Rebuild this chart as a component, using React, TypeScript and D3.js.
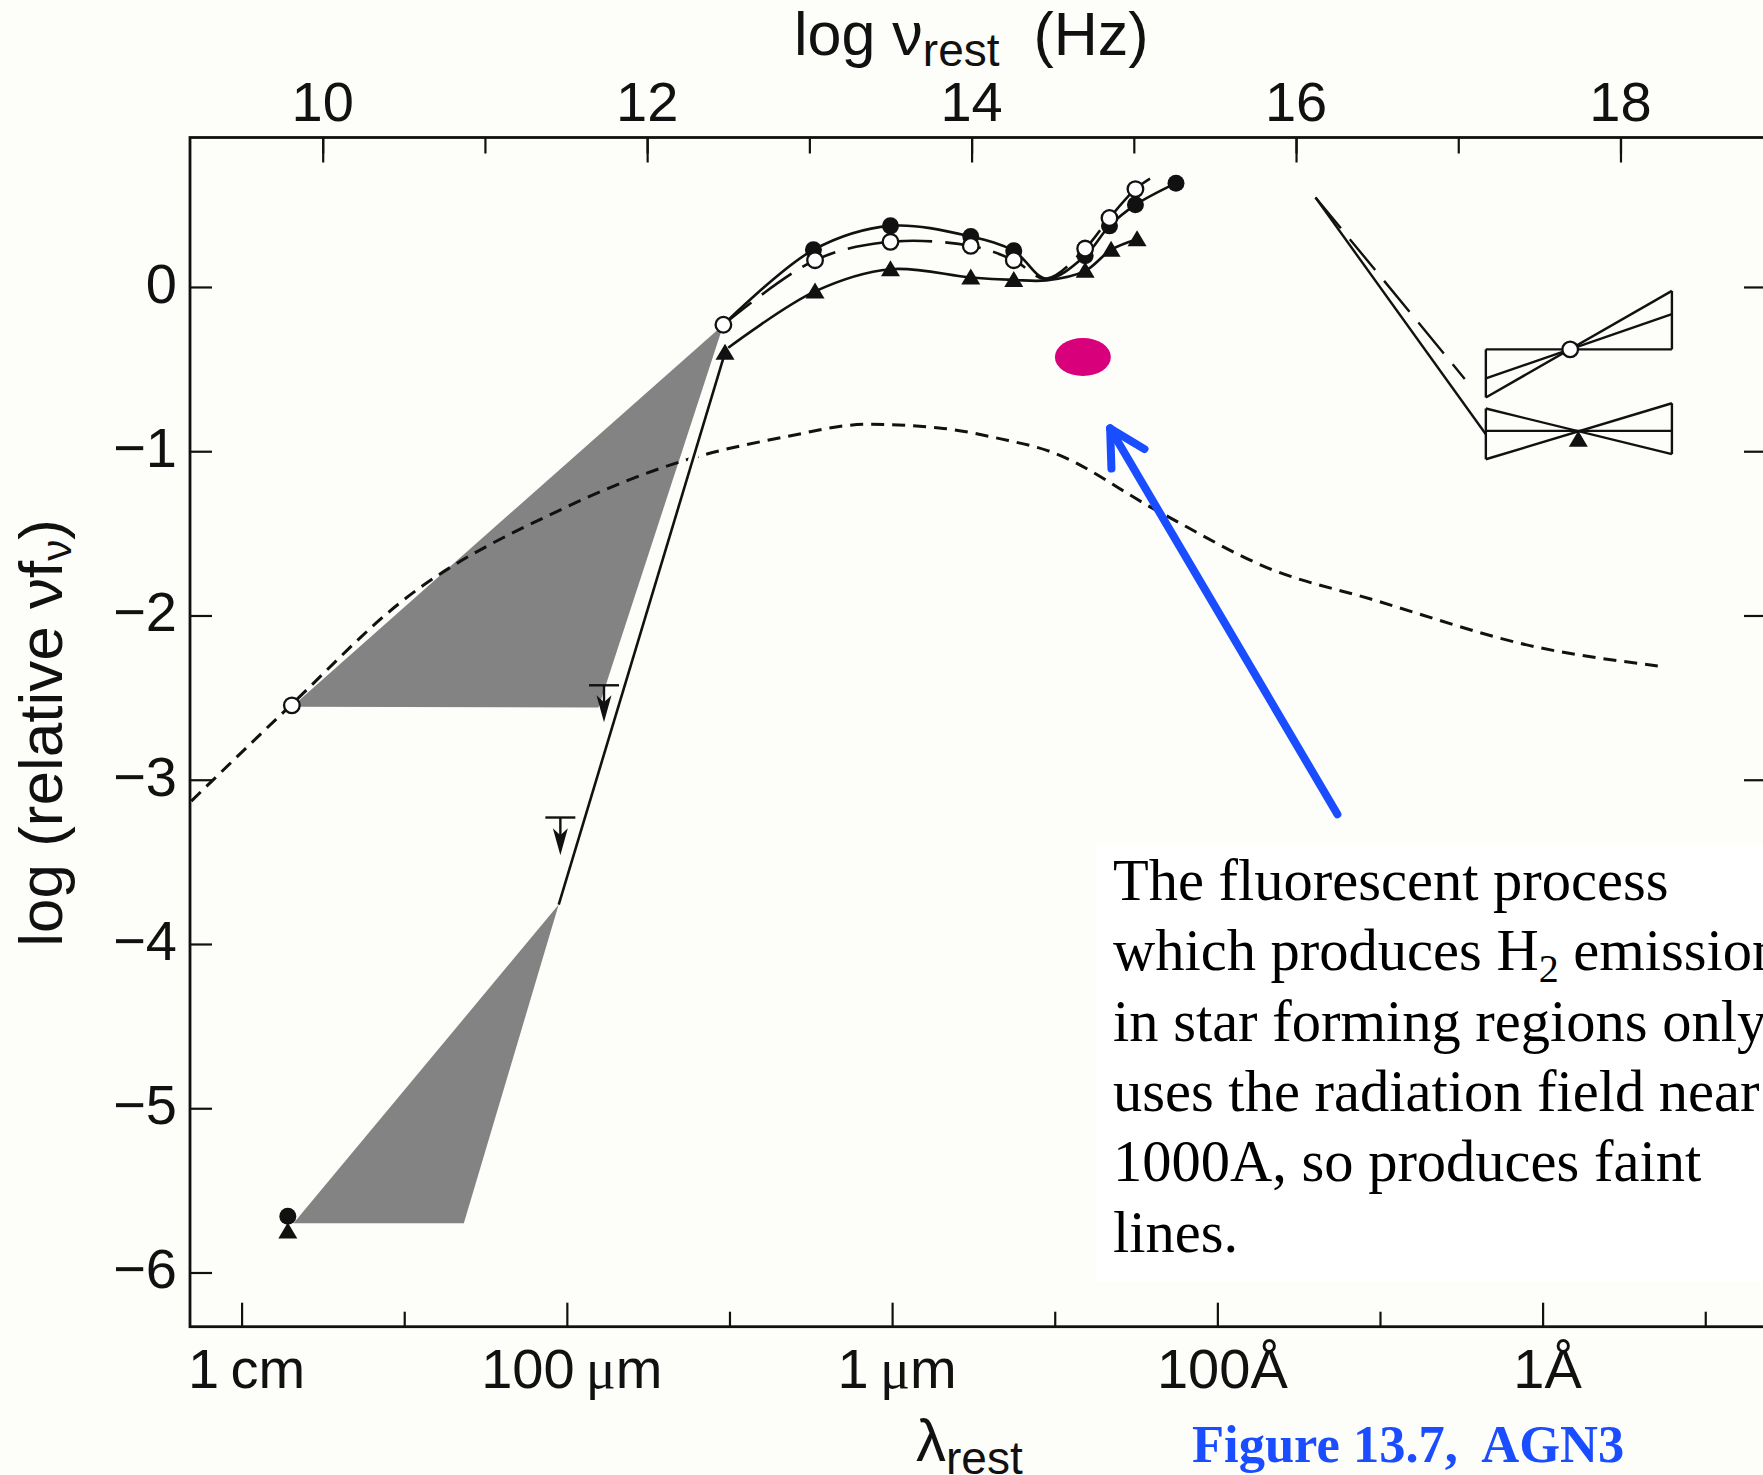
import { Component, createRef } from 'react'
import * as d3 from 'd3'

// all points are [log nu_rest (Hz), log(relative nu f_nu)]
const filledCurve = [[12.47, -0.23], [13.025, 0.226], [13.5, 0.372], [13.995, 0.307], [14.26, 0.22], [14.46, 0.05], [14.7, 0.19], [14.85, 0.372], [15.01, 0.5], [15.26, 0.632]]
const openCurve = [[12.47, -0.23], [13.035, 0.163], [13.5, 0.275], [13.995, 0.25], [14.26, 0.163], [14.46, 0.05], [14.7, 0.234], [14.85, 0.42], [15.01, 0.596], [15.1, 0.66]]
const triangleCurve = [[12.5, -0.37], [13.035, -0.027], [13.5, 0.108], [13.995, 0.058], [14.26, 0.043], [14.46, 0.04], [14.7, 0.098], [14.86, 0.226], [15.02, 0.29]]
const modelCurve = [[9.19, -3.13], [9.81, -2.54], [10.48, -1.92], [11.48, -1.35], [12.25, -1.05], [12.84, -0.915], [13.36, -0.836], [13.8, -0.858], [14.18, -0.925], [14.48, -1.0], [15.14, -1.36], [15.85, -1.72], [16.46, -1.9], [17.5, -2.196], [18.23, -2.307]]

const filledPoints = [[13.025, 0.226], [13.5, 0.372], [13.995, 0.307], [14.26, 0.22], [14.7, 0.19], [14.85, 0.372], [15.01, 0.5], [15.26, 0.632], [9.785, -5.657]]
const openPoints = [[12.47, -0.23], [13.035, 0.163], [13.5, 0.275], [13.995, 0.25], [14.26, 0.163], [14.7, 0.234], [14.85, 0.42], [15.01, 0.596], [9.81, -2.547], [17.69, -0.38]]
const trianglePoints = [[12.48, -0.4], [13.035, -0.027], [13.5, 0.108], [13.995, 0.058], [14.26, 0.043], [14.7, 0.098], [14.86, 0.226], [15.02, 0.29], [9.785, -5.75], [17.74, -0.93]]

const upperShade = [[9.81, -2.555], [11.7, -2.56], [12.47, -0.23]]
const lowerShade = [[9.82, -5.7], [10.87, -5.7], [11.455, -3.76]]
const steepLine = [[11.455, -3.76], [12.48, -0.4]]
const upperLimits = [[11.734, -2.425, -2.65], [11.465, -3.23, -3.46]]

const xraySolid = [[16.12, 0.545], [17.17, -0.897]]
const xrayDashed = [[16.12, 0.545], [17.04, -0.56]]
const bowties = [
    [[17.17, -0.38], [18.317, -0.38]],
    [[17.17, -0.673], [18.317, -0.024]],
    [[17.17, -0.557], [18.317, -0.166]],
    [[17.17, -0.38], [17.17, -0.673]],
    [[18.317, -0.024], [18.317, -0.38]],
    [[17.17, -0.876], [18.317, -0.876]],
    [[17.17, -0.74], [18.317, -1.018]],
    [[17.17, -1.049], [18.317, -0.708]],
    [[17.17, -0.74], [17.17, -1.049]],
    [[18.317, -0.708], [18.317, -1.018]]
]

const h2Spot = [14.686, -0.426]
const arrowTail = [16.255, -3.21]
const arrowTip = [14.854, -0.862]

const nuTicks = [10, 11, 12, 13, 14, 15, 16, 17, 18]
const nuLabels = [10, 12, 14, 16, 18]
const yTicks = [0, -1, -2, -3, -4, -5, -6]
const lamMajor = [0, -2, -4, -6, -8]
const lamMinor = [-1, -3, -5, -7, -9]
const lamLabels = [['1\u2009', '', 'cm'], ['100\u2009', 'μ', 'm'], ['1\u2009', 'μ', 'm'], ['100Å', '', ''], ['1Å', '', '']]

const noteLines = ['The fluorescent process', 'which produces H|2| emission', 'in star forming regions only', 'uses the radiation field near', '1000A, so produces faint', 'lines.']

const W = 1763
const H = 1475
const SANS = '"Liberation Sans", Arial, Helvetica, sans-serif'
const SERIF = '"Liberation Serif", "Times New Roman", serif'

class App extends Component {
    constructor(props) {
        super(props)
        this.myRef = createRef()
        this.frame = {left: 190, top: 137.5, right: 1766, bottom: 1326.7}
    }

    componentDidMount() {
        this.paint()
    }

    paint() {
        const f = this.frame
        const svg = d3.select(this.myRef.current)
        svg.selectAll('*').remove()
        const x = d3.scaleLinear().domain([9.182, 18.897]).range([f.left, f.right])
        const y = d3.scaleLinear().domain([0.91, -6.33]).range([f.top, f.bottom])
        const lam = d3.scaleLinear().domain([0, -8]).range([x(9.5), x(17.52)])

        svg.append('rect').attr('width', W).attr('height', H).attr('fill', '#fdfdfa')

        // shaded ranges
        const poly = d3.line().x(d => x(d[0])).y(d => y(d[1]))
        ;[upperShade, lowerShade].forEach(s => {
            svg.append('path').attr('d', poly(s) + 'Z').attr('fill', '#838383')
        })

        // model (dotted) curve
        const smooth = d3.line().x(d => x(d[0])).y(d => y(d[1])).curve(d3.curveCatmullRom.alpha(0.5))
        const mono = d3.line().x(d => x(d[0])).y(d => y(d[1])).curve(d3.curveMonotoneX)
        svg.append('path').attr('d', mono(modelCurve)).attr('fill', 'none')
            .attr('stroke', '#111').attr('stroke-width', 3).attr('stroke-dasharray', '13 8')

        // steep line with white halo
        svg.append('path').attr('d', poly(steepLine)).attr('stroke', '#fdfdfa').attr('stroke-width', 9).attr('fill', 'none')
        svg.append('path').attr('d', poly(steepLine)).attr('stroke', '#111').attr('stroke-width', 2.6).attr('fill', 'none')

        svg.append('path').attr('d', smooth(filledCurve)).attr('fill', 'none').attr('stroke', '#111').attr('stroke-width', 2.6)
        svg.append('path').attr('d', smooth(openCurve)).attr('fill', 'none').attr('stroke', '#111').attr('stroke-width', 2.6)
            .attr('stroke-dasharray', '36 13')
        svg.append('path').attr('d', smooth(triangleCurve)).attr('fill', 'none').attr('stroke', '#111').attr('stroke-width', 2.6)

        // x-ray part
        svg.append('path').attr('d', poly(xraySolid)).attr('fill', 'none').attr('stroke', '#111').attr('stroke-width', 2.4)
        svg.append('path').attr('d', poly(xrayDashed)).attr('fill', 'none').attr('stroke', '#111').attr('stroke-width', 2.4)
            .attr('stroke-dasharray', '40 14')
        svg.append('g').selectAll('path').data(bowties).enter().append('path')
            .attr('d', d => poly(d)).attr('stroke', '#111').attr('stroke-width', 2.4).attr('fill', 'none')

        // upper limits
        const lim = svg.append('g').attr('fill', '#111').attr('stroke', '#111').attr('stroke-width', 2.4)
        upperLimits.forEach(u => {
            const cx = x(u[0]), yb = y(u[1]), yt = y(u[2])
            lim.append('line').attr('x1', cx - 15).attr('x2', cx + 15).attr('y1', yb).attr('y2', yb)
            lim.append('line').attr('x1', cx).attr('x2', cx).attr('y1', yb).attr('y2', yt - 20)
            lim.append('path').attr('stroke', 'none')
                .attr('d', `M${cx - 7.5},${yt - 27} L${cx},${yt - 20} L${cx + 7.5},${yt - 27} L${cx},${yt} Z`)
        })

        // markers
        svg.append('g').selectAll('circle').data(filledPoints).enter().append('circle')
            .attr('cx', d => x(d[0])).attr('cy', d => y(d[1])).attr('r', 8.5).attr('fill', '#111')
        svg.append('g').selectAll('circle').data(openPoints).enter().append('circle')
            .attr('cx', d => x(d[0])).attr('cy', d => y(d[1])).attr('r', 7.8)
            .attr('fill', '#fff').attr('stroke', '#111').attr('stroke-width', 2.3)
        svg.append('g').selectAll('path').data(trianglePoints).enter().append('path')
            .attr('d', d => {
                const px = x(d[0]), py = y(d[1])
                return `M${px},${py - 9} L${px + 9.5},${py + 7} L${px - 9.5},${py + 7} Z`
            })
            .attr('fill', '#111')

        // H2 spot and arrow
        svg.append('ellipse').attr('cx', x(h2Spot[0])).attr('cy', y(h2Spot[1])).attr('rx', 28).attr('ry', 19).attr('fill', '#d9007b')
        const tx = x(arrowTip[0]), ty = y(arrowTip[1])
        const ang = Math.atan2(y(arrowTail[1]) - ty, x(arrowTail[0]) - tx)
        const blue = '#1a4dff'
        svg.append('line').attr('x1', x(arrowTail[0])).attr('y1', y(arrowTail[1])).attr('x2', tx).attr('y2', ty)
            .attr('stroke', blue).attr('stroke-width', 8).attr('stroke-linecap', 'round')
        ;[-0.5, 0.5].forEach(a => {
            svg.append('line').attr('x1', tx).attr('y1', ty)
                .attr('x2', tx + 40 * Math.cos(ang + a)).attr('y2', ty + 40 * Math.sin(ang + a))
                .attr('stroke', blue).attr('stroke-width', 8).attr('stroke-linecap', 'round')
        })

        // frame and ticks
        const tickStyle = g => {
            g.select('.domain').remove()
            g.selectAll('line').attr('stroke', '#111').attr('stroke-width', 2.2)
            g.selectAll('text').remove()
        }
        svg.append('g').attr('transform', `translate(0,${f.top})`)
            .call(d3.axisBottom(x).tickValues(nuTicks).tickSize(16)).call(tickStyle)
        svg.append('g').attr('transform', `translate(0,${f.top})`)
            .call(d3.axisBottom(x).tickValues(nuLabels).tickSize(25)).call(tickStyle)
        svg.append('g').attr('transform', `translate(0,${f.bottom})`)
            .call(d3.axisTop(lam).tickValues(lamMinor).tickSize(15)).call(tickStyle)
        svg.append('g').attr('transform', `translate(0,${f.bottom})`)
            .call(d3.axisTop(lam).tickValues(lamMajor).tickSize(24)).call(tickStyle)
        svg.append('g').attr('transform', `translate(${f.left},0)`)
            .call(d3.axisRight(y).tickValues(yTicks).tickSize(22)).call(tickStyle)
        svg.append('g').attr('transform', `translate(${f.right},0)`)
            .call(d3.axisLeft(y).tickValues(yTicks).tickSize(22)).call(tickStyle)
        svg.append('rect').attr('x', f.left).attr('y', f.top)
            .attr('width', f.right - f.left).attr('height', f.bottom - f.top)
            .attr('fill', 'none').attr('stroke', '#111').attr('stroke-width', 2.8)

        // tick labels
        const lab = svg.append('g').attr('font-family', SANS).attr('font-size', 56).attr('fill', '#111')
        nuLabels.forEach(v => {
            lab.append('text').attr('x', x(v)).attr('y', 121).attr('text-anchor', 'middle').text(v)
        })
        yTicks.forEach(v => {
            lab.append('text').attr('x', 177).attr('y', y(v) + 16).attr('text-anchor', 'end')
                .text(v === 0 ? '0' : '\u2212' + Math.abs(v))
        })
        lamMajor.forEach((v, i) => {
            const t = lab.append('text').attr('x', lam(v) + 5).attr('y', 1388).attr('text-anchor', 'middle')
            t.append('tspan').text(lamLabels[i][0])
            if (lamLabels[i][1]) t.append('tspan').attr('font-family', SERIF).text(lamLabels[i][1])
            if (lamLabels[i][2]) t.append('tspan').text(lamLabels[i][2])
        })

        // axis titles
        const top = svg.append('text').attr('font-family', SANS).attr('font-size', 61).attr('fill', '#111')
            .attr('x', 794).attr('y', 55).style('white-space', 'pre')
        top.append('tspan').text('log ν')
        top.append('tspan').attr('font-size', 46).attr('dy', 11).text('rest')
        top.append('tspan').attr('dy', -11).text('  (Hz)')

        const left = svg.append('text').attr('font-family', SANS).attr('font-size', 62).attr('fill', '#111')
            .attr('transform', 'translate(62,733) rotate(-90)').attr('text-anchor', 'middle')
        left.append('tspan').text('log (relative νf')
        left.append('tspan').attr('font-size', 42).attr('dy', 9).text('ν')
        left.append('tspan').attr('dy', -9).text(')')

        const bot = svg.append('text').attr('font-family', SANS).attr('font-size', 60).attr('fill', '#111')
            .attr('x', 916).attr('y', 1461)
        bot.append('tspan').text('λ')
        bot.append('tspan').attr('font-size', 46).attr('dy', 13).text('rest')

        // note box
        svg.append('rect').attr('x', 1096).attr('y', 845).attr('width', W - 1096).attr('height', 437).attr('fill', '#ffffff')
        const note = svg.append('g').attr('font-family', SERIF).attr('font-size', 58.5).attr('fill', '#000')
        noteLines.forEach((ln, i) => {
            const t = note.append('text').attr('x', 1113).attr('y', 900 + i * 70.3)
            const parts = ln.split('|')
            t.append('tspan').text(parts[0])
            if (parts.length > 1) {
                t.append('tspan').attr('font-size', 40).attr('dy', 12).text(parts[1])
                t.append('tspan').attr('dy', -12).text(parts[2])
            }
        })

        svg.append('text').attr('x', 1192).attr('y', 1462).attr('font-family', SERIF).attr('font-weight', 'bold')
            .attr('font-size', 52.5).attr('fill', blue).style('white-space', 'pre').text('Figure 13.7,  AGN3')
    }

    render() {
        return (
            <svg ref={this.myRef} width={W} height={H}
                 style={{position: 'absolute', left: 0, top: 0, display: 'block'}}></svg>
        )
    }
}

export default App
